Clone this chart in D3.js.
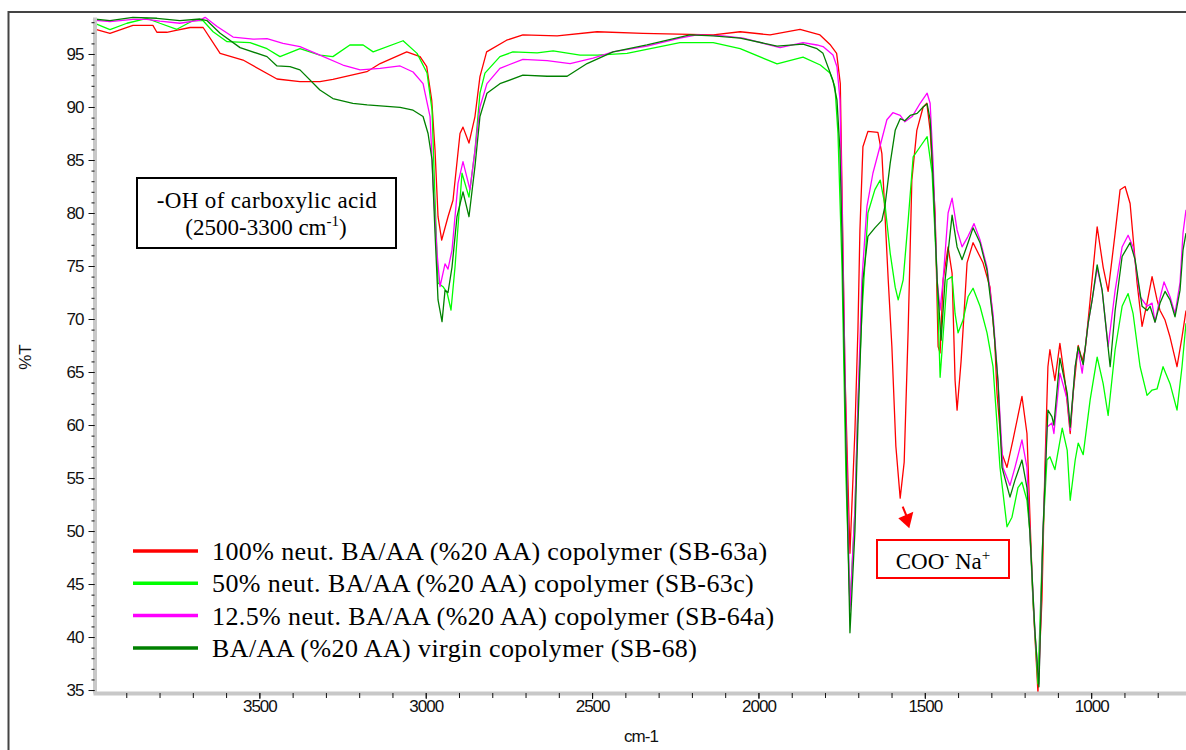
<!DOCTYPE html>
<html>
<head>
<meta charset="utf-8">
<script src="https://cdn.jsdelivr.net/npm/d3@7"></script>
<style>
  body { margin: 0; background: #fff; }
  svg { display: block; }
</style>
</head>
<body>
<div id="chart"></div>
<script>
// FTIR spectra, [wavenumber cm-1, %T]
const sb63a = [
  [4000, 97.4], [3949, 96.95], [3880, 97.7], [3820, 97.7], [3808, 97.05], [3778, 97.05], [3754, 97.2],
  [3708, 97.5], [3669, 97.5], [3618, 95.06], [3549, 94.43], [3447, 92.64], [3378, 92.4], [3318, 92.4],
  [3279, 92.6], [3177, 93.33], [3137, 94.1], [3057, 95.2], [3017, 94.75], [2997, 93.8], [2982, 90.66],
  [2972, 85.9], [2963, 79.65], [2952, 77.45], [2933, 79.65], [2918, 81.2], [2897, 87.5], [2888, 88.1],
  [2870, 86.6], [2852, 89.1], [2837, 92.86], [2817, 95.2], [2757, 96.3], [2708, 96.8], [2605, 96.7],
  [2485, 97.1], [2347, 96.95], [2136, 96.8], [2055, 97.1], [1965, 96.8], [1875, 97.33], [1815, 96.8],
  [1785, 95.9], [1765, 95.06], [1754, 92.2], [1750, 84.4], [1740, 65], [1725, 47.9], [1710, 59.5],
  [1701, 69.0], [1695, 78.4], [1686, 86.25], [1671, 87.7], [1641, 87.6], [1629, 85.6], [1620, 80.0],
  [1610, 73.7], [1599, 67.4], [1587, 58], [1574, 53.1], [1562, 56.5], [1550, 69.0], [1539, 83.1],
  [1524, 87.8], [1505, 90.0], [1494, 90.35], [1484, 87.8], [1469, 80], [1460, 67.4], [1454, 66.8],
  [1445, 73.7], [1430, 76.8], [1418, 74.3], [1409, 64.2], [1403, 61.4], [1391, 66], [1385, 69],
  [1373, 75.3], [1355, 77.2], [1325, 75.3], [1304, 73.0], [1290, 68], [1283, 63], [1268, 57.3],
  [1253, 56.0], [1235, 58.6], [1208, 62.7], [1193, 59.2], [1184, 51.3], [1175, 43.5], [1160, 34.8],
  [1148, 43.5], [1139, 56], [1130, 65.5], [1124, 67.1], [1109, 64.2], [1094, 67.7], [1078, 64.0],
  [1063, 59.2], [1054, 63.0], [1039, 67.5], [1027, 66.1], [1018, 67.1], [1003, 71.8], [982, 78.7],
  [964, 74.9], [949, 72.6], [928, 78.1], [913, 82.2], [898, 82.5], [883, 80.9], [862, 73.4],
  [847, 69.3], [832, 71.5], [817, 74.0], [802, 71.8], [793, 70.8], [778, 69.9], [763, 68.3],
  [742, 65.5], [727, 68.3], [715, 70.8]
];

const sb63c = [
  [4000, 97.95], [3949, 97.3], [3898, 97.9], [3838, 98.37], [3799, 97.9], [3748, 97.33], [3700, 98.14],
  [3669, 98.14], [3639, 97.1], [3597, 96.16], [3528, 96.07], [3477, 95.5], [3438, 94.75], [3378, 95.5],
  [3318, 94.9], [3279, 94.75], [3228, 95.85], [3188, 95.85], [3158, 95.2], [3068, 96.25], [3026, 95.06],
  [2996, 93.2], [2981, 89.7], [2972, 81.2], [2963, 73.4], [2948, 73.05], [2936, 72.5], [2924, 70.85],
  [2912, 74.9], [2891, 83.75], [2870, 81.5], [2852, 85.9], [2837, 91.3], [2822, 93.2], [2777, 94.75],
  [2738, 95.2], [2665, 95.1], [2617, 95.3], [2536, 94.9], [2485, 94.9], [2395, 95.06], [2236, 96.07],
  [2136, 96.07], [2055, 95.5], [1944, 94.06], [1866, 94.7], [1814, 93.96], [1785, 93.2], [1770, 91.9],
  [1761, 87.5], [1749, 75], [1737, 55], [1725, 42.9], [1710, 52], [1701, 62], [1689, 70.5], [1671, 80],
  [1650, 82.2], [1634, 83.1], [1619, 80.6], [1604, 76.2], [1589, 73.0], [1580, 71.8], [1565, 73.7],
  [1550, 79.3], [1535, 85.3], [1514, 86.25], [1493, 87.2], [1478, 83.75], [1463, 73.7], [1454, 64.5],
  [1433, 73.7], [1418, 74.0], [1409, 70.5], [1400, 68.7], [1385, 69.9], [1370, 72.1], [1355, 72.9],
  [1334, 71.2], [1313, 68.7], [1295, 65.5], [1274, 56.0], [1253, 50.4], [1238, 51.3], [1220, 54.1],
  [1208, 54.6], [1193, 52.9], [1184, 49.8], [1175, 43.5], [1160, 35.6], [1145, 49.8], [1133, 56.7],
  [1124, 57.0], [1109, 55.8], [1087, 59.7], [1072, 57.6], [1063, 52.9], [1048, 56.7], [1039, 58.3],
  [1024, 57.2], [1003, 62.4], [982, 66.4], [964, 63.9], [949, 60.9], [928, 67.1], [907, 71.2],
  [889, 72.4], [874, 70.5], [853, 65.5], [832, 62.8], [817, 63.3], [802, 63.4], [784, 65.5],
  [763, 63.9], [742, 61.4], [727, 65.5], [715, 69.6]
];

const sb64a = [
  [4000, 98.2], [3949, 98.05], [3880, 98.27], [3838, 98.27], [3799, 98.1], [3739, 97.9], [3678, 98.2],
  [3663, 98.46], [3627, 97.6], [3579, 96.6], [3519, 96.4], [3477, 96.45], [3429, 96.0], [3378, 95.7],
  [3318, 94.9], [3249, 93.96], [3197, 93.5], [3137, 93.65], [3077, 93.87], [3038, 93.3], [3008, 92.2],
  [2987, 89.1], [2978, 82.8], [2966, 76.2], [2957, 73.05], [2942, 75.2], [2933, 74.7], [2921, 76.5],
  [2903, 82.8], [2888, 84.84], [2867, 82.2], [2852, 85.9], [2837, 90.0], [2816, 92.2], [2777, 93.65],
  [2708, 94.5], [2635, 94.37], [2566, 94.1], [2497, 94.6], [2437, 95.2], [2335, 95.75], [2236, 96.5],
  [2185, 96.8], [2106, 96.7], [2046, 96.5], [1935, 95.6], [1866, 96.07], [1824, 95.85], [1806, 95.7],
  [1776, 94.9], [1764, 93.8], [1755, 90.66], [1749, 81.2], [1737, 60], [1725, 42.5], [1710, 52],
  [1701, 62], [1689, 73.7], [1674, 80.6], [1656, 83.75], [1635, 86.25], [1614, 88.8], [1596, 89.46],
  [1574, 89.2], [1560, 88.6], [1538, 89.1], [1514, 90.35], [1493, 91.3], [1484, 90.35], [1475, 84.7],
  [1463, 73.7], [1454, 70.85], [1445, 73.7], [1430, 80], [1418, 81.4], [1403, 78.4], [1388, 76.8],
  [1370, 77.8], [1352, 79.0], [1334, 77.45], [1313, 74.9], [1295, 70.5], [1280, 64.1], [1265, 56],
  [1244, 54.3], [1229, 56], [1208, 58.6], [1193, 56], [1184, 49.8], [1169, 40.4], [1157, 35.6],
  [1145, 49.8], [1133, 59.8], [1118, 60.2], [1112, 59.2], [1094, 64.9], [1072, 62.4], [1063, 59.5],
  [1048, 65.5], [1039, 67.1], [1027, 64.9], [1009, 69.6], [997, 71.8], [982, 74.8], [967, 72.7],
  [949, 67.4], [928, 72.7], [907, 76.8], [889, 77.9], [874, 76.8], [853, 72.1], [832, 71.2],
  [817, 71.5], [808, 69.7], [793, 72.0], [781, 73.5], [763, 72.1], [748, 70.5], [733, 73.4],
  [724, 78.1], [715, 80.3]
];

const sb68 = [
  [4000, 98.3], [3949, 98.14], [3880, 98.46], [3808, 98.37], [3739, 98.14], [3678, 98.3], [3657, 98.14],
  [3618, 96.95], [3558, 95.6], [3477, 94.75], [3447, 93.87], [3408, 93.8], [3378, 93.5], [3318, 91.6],
  [3279, 90.8], [3219, 90.35], [3176, 90.2], [3077, 89.97], [3038, 89.7], [3008, 89.1], [2993, 87.5],
  [2981, 85.0], [2972, 78.1], [2963, 71.8], [2951, 69.75], [2942, 72.7], [2933, 72.5], [2921, 74.9],
  [2906, 79.65], [2888, 82.0], [2870, 79.65], [2852, 84.4], [2837, 89.1], [2816, 91.3], [2777, 92.2],
  [2708, 93.0], [2635, 92.9], [2575, 92.9], [2515, 94.1], [2437, 95.2], [2335, 95.85], [2206, 96.8],
  [2136, 96.7], [2055, 96.5], [1944, 95.75], [1866, 95.94], [1824, 95.5], [1806, 95.06], [1776, 92.5],
  [1764, 90.66], [1755, 85.9], [1749, 78.1], [1737, 58], [1725, 40.4], [1710, 50], [1701, 60],
  [1686, 73.7], [1671, 77.8], [1650, 78.6], [1629, 79.3], [1620, 80.6], [1604, 84.7], [1589, 87.8],
  [1574, 88.9], [1560, 88.7], [1544, 89.2], [1523, 89.4], [1505, 90.0], [1493, 90.3], [1484, 88.8],
  [1475, 83.1], [1463, 73.7], [1451, 68.0], [1439, 73.7], [1418, 79.8], [1403, 76.8], [1388, 75.6],
  [1370, 77.2], [1355, 78.6], [1334, 77.2], [1313, 74.6], [1295, 69.9], [1280, 64.1], [1268, 56],
  [1244, 53.2], [1229, 54.8], [1208, 56.7], [1193, 54.1], [1184, 49.8], [1169, 40.5], [1157, 35.3],
  [1145, 49.8], [1130, 61.4], [1118, 60.8], [1112, 60.0], [1094, 66.3], [1072, 63.0], [1063, 59.8],
  [1048, 65.5], [1039, 67.4], [1024, 65.7], [1009, 69.6], [997, 71.8], [982, 75.1], [967, 72.7],
  [943, 65.5], [928, 70.8], [907, 75.9], [883, 77.2], [868, 75.6], [847, 71.2], [832, 70.8],
  [823, 71.2], [808, 69.7], [793, 71.5], [778, 72.6], [763, 71.8], [748, 70.2], [733, 72.7],
  [724, 76.5], [715, 78.1]
];

const seriesLabels = [
  "100% neut. BA/AA (%20 AA) copolymer (SB-63a)",
  "50% neut. BA/AA (%20 AA) copolymer (SB-63c)",
  "12.5% neut. BA/AA (%20 AA) copolymer (SB-64a)",
  "BA/AA (%20 AA) virgin copolymer (SB-68)"
];
const seriesColors = ["#ff0000", "#00ff00", "#ff00ff", "#008000"];
const allSeries = [sb63a, sb63c, sb64a, sb68];

const xTickValues = [3500, 3000, 2500, 2000, 1500, 1000];
const xMinorTicks = d3.range(3900, 700, -100);
const yTickValues = [35, 40, 45, 50, 55, 60, 65, 70, 75, 80, 85, 90, 95];
const yMinorTicks = d3.range(35, 99, 1);

const width = 1186;
const height = 750;
const sansFont = "'Liberation Sans', Arial, sans-serif";
const serifFont = "'Liberation Serif', 'Times New Roman', serif";

const x = d3.scaleLinear().domain([4000, 715]).range([93, 1186]);
const y = d3.scaleLinear().domain([34.72, 98.49]).range([693, 17]);

const svg = d3.select("#chart")
  .append("svg")
  .attr("width", width)
  .attr("height", height)
  .attr("viewBox", [0, 0, width, height]);

// outer frame (right and bottom edges fall outside the picture)
svg.append("rect")
  .attr("x", 8.5)
  .attr("y", 12)
  .attr("width", 1300)
  .attr("height", 900)
  .attr("fill", "#fff")
  .attr("stroke", "#444")
  .attr("stroke-width", 2);

// spectra
const line = d3.line()
  .x(d => x(d[0]))
  .y(d => y(d[1]));

svg.append("g")
  .selectAll("path")
  .data(allSeries)
  .join("path")
  .attr("fill", "none")
  .attr("stroke", (d, i) => seriesColors[i])
  .attr("stroke-width", 1.3)
  .attr("stroke-linejoin", "round")
  .attr("d", line);

// axes
const styleAxis = g => {
  g.select(".domain").attr("stroke", "#c8c8c8").attr("stroke-width", 4);
  g.selectAll(".tick line").attr("stroke", "#111");
  g.selectAll("text")
    .attr("font-family", sansFont)
    .attr("font-size", 17)
    .attr("letter-spacing", "-1px")
    .attr("fill", "#111");
};

svg.append("g")
  .attr("transform", "translate(94.5,0)")
  .call(d3.axisLeft(y).tickValues(yMinorTicks).tickSize(3).tickFormat("").tickSizeOuter(0))
  .call(styleAxis);

svg.append("g")
  .attr("transform", "translate(94.5,0)")
  .call(d3.axisLeft(y).tickValues(yTickValues).tickSize(6).tickPadding(5).tickSizeOuter(0))
  .call(g => g.select(".domain").remove())
  .call(styleAxis);

svg.append("g")
  .attr("transform", "translate(0,693)")
  .call(d3.axisBottom(x).tickValues(xMinorTicks).tickSize(5).tickFormat("").tickSizeOuter(0))
  .call(styleAxis);

svg.append("g")
  .attr("transform", "translate(0,693)")
  .call(d3.axisBottom(x).tickValues(xTickValues).tickSize(6).tickPadding(1)
    .tickFormat(d3.format("d")).tickSizeOuter(0))
  .call(g => g.select(".domain").remove())
  .call(styleAxis);

// axis titles
svg.append("text")
  .attr("transform", "translate(31,357) rotate(-90)")
  .attr("text-anchor", "middle")
  .attr("font-family", sansFont)
  .attr("font-size", 17)
  .attr("fill", "#111")
  .text("%T");

svg.append("text")
  .attr("x", 641)
  .attr("y", 742)
  .attr("text-anchor", "middle")
  .attr("font-family", sansFont)
  .attr("font-size", 17)
  .attr("letter-spacing", "-1px")
  .attr("fill", "#111")
  .text("cm-1");

// legend
const legend = svg.append("g")
  .selectAll("g")
  .data(seriesLabels)
  .join("g")
  .attr("transform", (d, i) => `translate(133,${551 + i * 32.3})`);

legend.append("line")
  .attr("x1", 0)
  .attr("x2", 65)
  .attr("stroke", (d, i) => seriesColors[i])
  .attr("stroke-width", 3.5);

legend.append("text")
  .attr("x", 79)
  .attr("y", 9)
  .attr("font-family", serifFont)
  .attr("font-size", 26)
  .attr("letter-spacing", "0.4px")
  .attr("fill", "#000")
  .text(d => d);

// -OH annotation box
const ohBox = svg.append("g");
ohBox.append("rect")
  .attr("x", 137)
  .attr("y", 178)
  .attr("width", 259)
  .attr("height", 70)
  .attr("fill", "#fff")
  .attr("stroke", "#000")
  .attr("stroke-width", 2);

ohBox.append("text")
  .attr("x", 267)
  .attr("y", 208)
  .attr("text-anchor", "middle")
  .attr("font-family", serifFont)
  .attr("font-size", 23)
  .attr("letter-spacing", "0.35px")
  .text("-OH of carboxylic acid");

const ohLine2 = ohBox.append("text")
  .attr("x", 266)
  .attr("y", 235)
  .attr("text-anchor", "middle")
  .attr("font-family", serifFont)
  .attr("font-size", 23);
ohLine2.append("tspan").text("(2500-3300 cm");
ohLine2.append("tspan").attr("dy", -9).attr("font-size", 15).text("-1");
ohLine2.append("tspan").attr("dy", 9).text(")");

// COO- Na+ annotation
svg.append("line")
  .attr("x1", 902.7)
  .attr("y1", 506.7)
  .attr("x2", 906.5)
  .attr("y2", 516)
  .attr("stroke", "#ff0000")
  .attr("stroke-width", 2);

svg.append("path")
  .attr("d", "M898.3,518.3L913.3,511.7L909.3,528.3Z")
  .attr("fill", "#ff0000");

svg.append("rect")
  .attr("x", 877)
  .attr("y", 540)
  .attr("width", 132)
  .attr("height", 38)
  .attr("fill", "#fff")
  .attr("stroke", "#ff0000")
  .attr("stroke-width", 2);

const cooText = svg.append("text")
  .attr("x", 943)
  .attr("y", 569)
  .attr("text-anchor", "middle")
  .attr("font-family", serifFont)
  .attr("font-size", 23);
cooText.append("tspan").text("COO");
cooText.append("tspan").attr("dy", -9).attr("font-size", 15).text("-");
cooText.append("tspan").attr("dy", 9).text(" Na");
cooText.append("tspan").attr("dy", -9).attr("font-size", 15).text("+");
</script>
</body>
</html>
